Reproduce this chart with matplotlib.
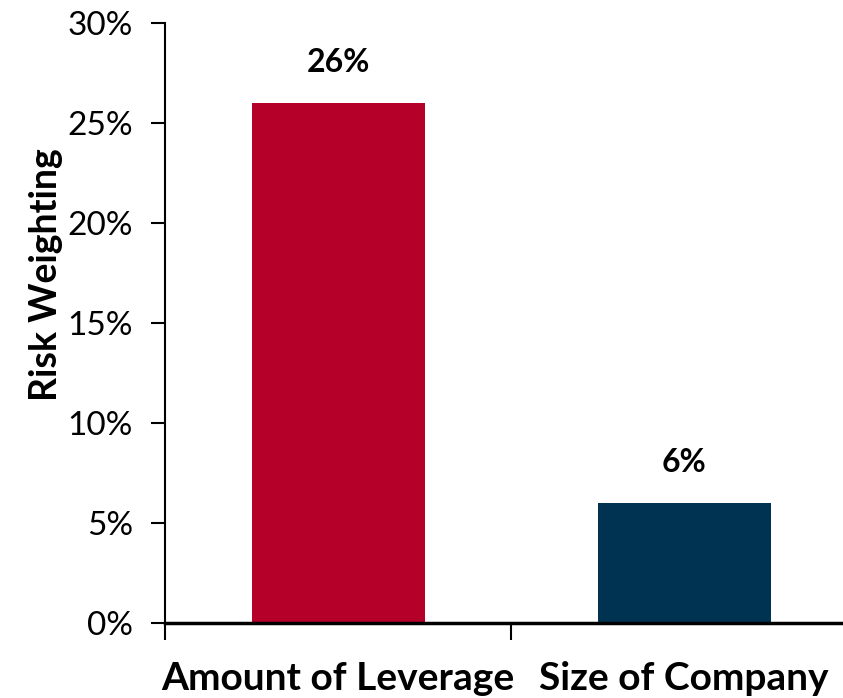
import numpy as np
import matplotlib.pyplot as plt
from matplotlib.ticker import FuncFormatter

# Risk weighting per factor
categories = ['Amount of Leverage', 'Size of Company']
weights = [26, 6]
bar_colors = ['#B5002A', '#003352']

plt.rcParams['font.family'] = ['Lato', 'DejaVu Sans']

fig = plt.figure(figsize=(8.43, 6.98), dpi=100)
ax = fig.add_axes([165 / 843, 75 / 698, 692 / 843, 600 / 698])

x = np.arange(len(categories))
ax.bar(x, weights, width=0.5, color=bar_colors, zorder=2)

for xi, w in zip(x, weights):
    ax.text(xi, w + 1.3, f'{w}%', ha='center', va='bottom',
            fontsize=23, fontweight='bold')

ax.set_xlim(-0.5, len(categories) - 0.5)
ax.set_ylim(0, 30)
ax.set_yticks(np.arange(0, 31, 5))
ax.yaxis.set_major_formatter(FuncFormatter(lambda v, _: f'{v:.0f}%'))
ax.tick_params(axis='y', labelsize=24, length=10, width=1.5, direction='out', pad=13)

# ticks between categories, labels centred under bars
ax.set_xticks(np.arange(-0.5, len(categories), 1.0))
ax.set_xticklabels([])
ax.tick_params(axis='x', length=12, width=1.5, direction='out')
for xi, name in zip(x, categories):
    ax.text(xi, -2.75, name, ha='center', va='center', fontsize=28,
            fontweight='bold')

ax.set_ylabel('Risk Weighting', fontsize=27, fontweight='bold')
ax.yaxis.set_label_coords(-0.147, 0.58)

for side in ['top', 'right']:
    ax.spines[side].set_visible(False)
ax.spines['left'].set_linewidth(1.5)
ax.spines['bottom'].set_linewidth(2.5)

fig.savefig('out.png', dpi=100)
